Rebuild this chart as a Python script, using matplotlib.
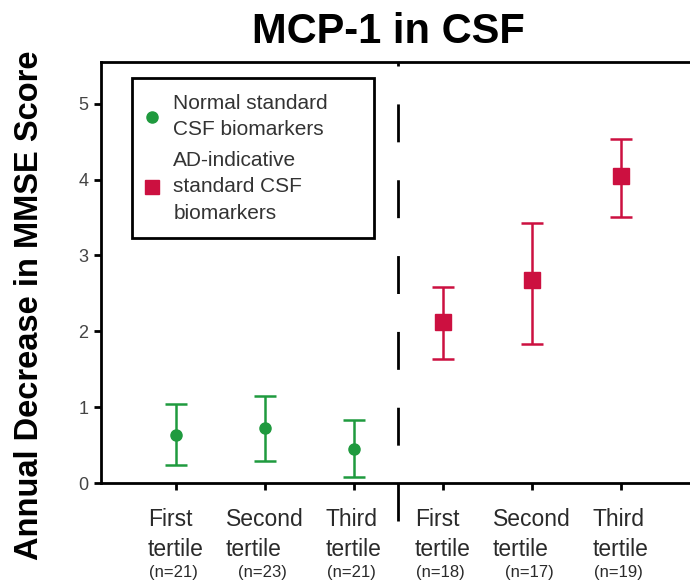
import matplotlib
matplotlib.use('Agg')
import matplotlib.pyplot as plt
from matplotlib.lines import Line2D

plt.rcParams['font.family'] = ['Liberation Sans', 'DejaVu Sans']
plt.rcParams['lines.scale_dashes'] = False

# tertile groups
labels = ['First\ntertile', 'Second\ntertile', 'Third\ntertile',
          'First\ntertile', 'Second\ntertile', 'Third\ntertile']
counts = ['(n=21)', '(n=23)', '(n=21)', '(n=18)', '(n=17)', '(n=19)']

# normal standard CSF biomarkers
normal_x = [1, 2, 3]
normal_mean = [0.63, 0.73, 0.45]
normal_low = [0.24, 0.29, 0.08]
normal_high = [1.04, 1.15, 0.83]

# AD-indicative standard CSF biomarkers
ad_x = [4, 5, 6]
ad_mean = [2.12, 2.68, 4.05]
ad_low = [1.64, 1.83, 3.51]
ad_high = [2.59, 3.43, 4.54]

green = '#1f9a3e'
red = '#cc1040'

fig = plt.figure(figsize=(6.9, 5.82), dpi=100)
ax = fig.add_axes([0.1464, 0.1701, 0.8536, 0.7234])

# error bars
yerr_n = [[m - l for m, l in zip(normal_mean, normal_low)],
          [h - m for m, h in zip(normal_mean, normal_high)]]
ax.errorbar(normal_x, normal_mean, yerr=yerr_n, fmt='o', color=green,
            markersize=8, elinewidth=1.8, capsize=8, capthick=1.8)

yerr_a = [[m - l for m, l in zip(ad_mean, ad_low)],
          [h - m for m, h in zip(ad_mean, ad_high)]]
ax.errorbar(ad_x, ad_mean, yerr=yerr_a, fmt='s', color=red,
            markersize=11, elinewidth=1.8, capsize=8, capthick=1.8)

ax.set_xlim(0.157, 6.78)
ax.set_ylim(0, 5.55)

# divider between groups
ax.plot([3.5, 3.5], [-0.5, 5.55], color='black', linewidth=2,
        dashes=(27.3, 27.3), clip_on=False)

for side in ['left', 'bottom', 'top']:
    ax.spines[side].set_linewidth(2)
ax.spines['right'].set_visible(False)

ax.set_yticks([0, 1, 2, 3, 4, 5])
ax.tick_params(axis='y', direction='out', length=5, width=2,
               labelsize=13, labelcolor='#444444', pad=4)
ax.set_xticks(normal_x + ad_x)
ax.set_xticklabels([])
ax.tick_params(axis='x', direction='out', length=5, width=2)

trans = ax.get_xaxis_transform()
for x, lab, n in zip(normal_x + ad_x, labels, counts):
    ax.text(x, -0.06, lab, transform=trans, ha='center', va='top',
            multialignment='left', fontsize=16.5, color='#2a2a2a',
            linespacing=1.35)
    ax.text(x - 0.03, -0.195, n, transform=trans, ha='center', va='top',
            fontsize=12, color='#2a2a2a')

ax.set_ylabel('Annual Decrease in MMSE Score', fontsize=23.5,
              fontweight='bold')
ax.yaxis.set_label_coords(-0.095, 0.423)

fig.text(0.563, 0.945, 'MCP-1 in CSF', ha='center', va='center',
         fontsize=30, fontweight='bold')

handles = [
    Line2D([], [], marker='o', linestyle='none', color=green, markersize=8),
    Line2D([], [], marker='s', linestyle='none', color=red, markersize=10),
]
leg = ax.legend(handles,
                ['Normal standard\nCSF biomarkers',
                 'AD-indicative\nstandard CSF\nbiomarkers'],
                loc='upper left', bbox_to_anchor=(0.053, 0.962, 0.41, 0.0),
                mode='expand', frameon=True, fancybox=False,
                edgecolor='black', framealpha=1, handlelength=0.4,
                handletextpad=0.82, borderpad=0.75, labelspacing=0.55,
                borderaxespad=0, prop={'size': 15})
leg.get_frame().set_linewidth(2)
for t in leg.get_texts():
    t.set_color('#333333')
    t.set_linespacing(1.5)

fig.savefig('out.png', dpi=100)
